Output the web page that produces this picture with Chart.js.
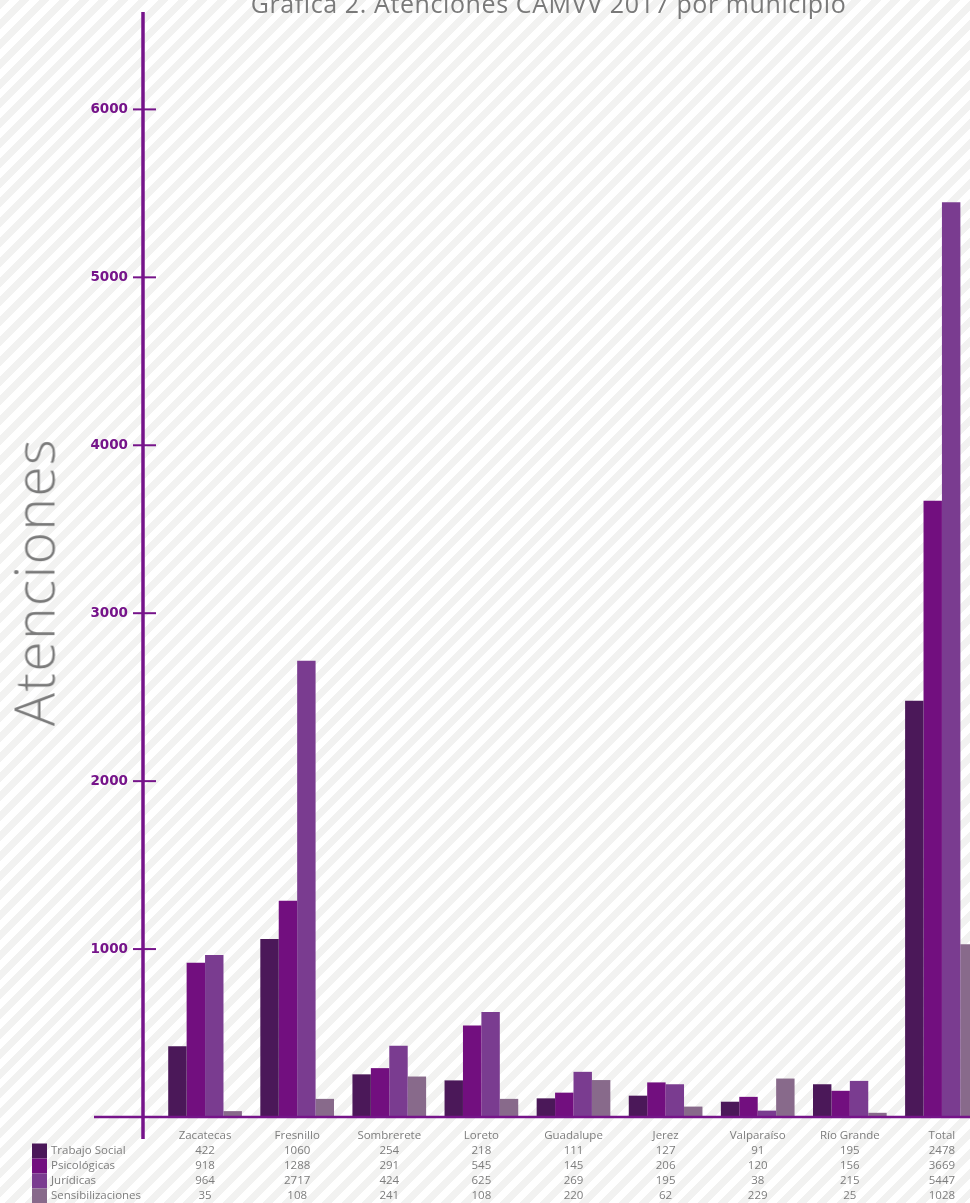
<!DOCTYPE html>
<html lang="es">
<head>
  <meta charset="UTF-8">
  <title>Gráfica 2. Atenciones CAMVV 2017 por municipio</title>
  <script src="https://cdn.jsdelivr.net/npm/chart.js"></script>
  <style>
    html, body {
      margin: 0;
      width: 970px;
      height: 1203px;
      overflow: hidden;
    }
    body {
      position: relative;
      font-family: 'Open Sans', sans-serif;
      background: repeating-linear-gradient(135deg, #f2f2f1 0px, #f2f2f1 7px, #ffffff 7px, #ffffff 14px);
    }
    #chart {
      position: absolute;
      left: 0;
      top: 0;
    }
    .titulo {
      position: absolute;
      left: 0;
      top: -9px;
      width: 1097px;
      text-align: center;
      font-size: 25px;
      line-height: 25px;
      letter-spacing: 0.6px;
      color: #7a7a7a;
      white-space: nowrap;
    }
    .eje-y {
      position: absolute;
      left: 33px;
      top: 582px;
      transform: translate(-50%, -50%) rotate(-90deg);
      font-size: 55px;
      font-weight: 300;
      letter-spacing: 1.5px;
      color: #7a7a7a;
      white-space: nowrap;
    }
  </style>
</head>
<body>

<canvas id="chart" width="1000" height="1203"></canvas>
<div class="titulo">Gráfica 2. Atenciones CAMVV 2017 por municipio</div>
<div class="eje-y">Atenciones</div>

<script>
// datos
const municipios = ['Zacatecas', 'Fresnillo', 'Sombrerete', 'Loreto', 'Guadalupe', 'Jerez', 'Valparaíso', 'Río Grande', 'Total'];
const trabajoSocial = [422, 1060, 254, 218, 111, 127, 91, 195, 2478];
const psicologicas = [918, 1288, 291, 545, 145, 206, 120, 156, 3669];
const juridicas = [964, 2717, 424, 625, 269, 195, 38, 215, 5447];
const sensibilizaciones = [35, 108, 241, 108, 220, 62, 229, 25, 1028];
const series = ['Trabajo Social', 'Psicológicas', 'Jurídicas', 'Sensibilizaciones'];
const colores = ['#4b1859', '#720f7f', '#7a3c90', '#886a8b'];
const yTicks = [1000, 2000, 3000, 4000, 5000, 6000];

const valores = [trabajoSocial, psicologicas, juridicas, sensibilizaciones];
const morado = '#76148a';

// ejes y tabla de leyenda dibujados sobre las escalas
const ejesPlugin = {
  id: 'ejes',
  afterDatasetsDraw(chart) {
    const ctx = chart.ctx;
    const area = chart.chartArea;
    const y = chart.scales.y;
    const x = chart.scales.x;
    const ejeX = area.left - 16;
    const base = y.getPixelForValue(0);
    ctx.save();
    ctx.strokeStyle = morado;
    // linea base
    ctx.lineWidth = 2.5;
    ctx.beginPath();
    ctx.moveTo(94, base);
    ctx.lineTo(chart.width, base);
    ctx.stroke();
    // eje vertical
    ctx.lineWidth = 3.5;
    ctx.beginPath();
    ctx.moveTo(ejeX, area.top);
    ctx.lineTo(ejeX, base + 22);
    ctx.stroke();
    // marcas
    ctx.lineWidth = 2;
    yTicks.forEach(v => {
      const py = y.getPixelForValue(v);
      ctx.beginPath();
      ctx.moveTo(ejeX - 10, py);
      ctx.lineTo(ejeX + 13, py);
      ctx.stroke();
    });
    // leyenda tipo tabla
    const lh = 15;
    const y0 = x.top + x.options.ticks.padding + lh;
    ctx.font = '11.5px "Open Sans"';
    ctx.textBaseline = 'middle';
    ctx.textAlign = 'left';
    series.forEach((s, i) => {
      const cy = y0 + lh * i + lh / 2;
      ctx.fillStyle = colores[i];
      ctx.fillRect(32, cy - lh / 2, 15, lh);
      ctx.fillStyle = '#7d7d7d';
      ctx.fillText(s, 51, cy);
    });
    ctx.restore();
  }
};

new Chart(document.getElementById('chart'), {
  type: 'bar',
  data: {
    labels: municipios,
    datasets: series.map((s, i) => ({
      label: s,
      data: valores[i],
      backgroundColor: colores[i],
      borderWidth: 0,
      barPercentage: 1.0,
      categoryPercentage: 0.8
    }))
  },
  options: {
    responsive: false,
    animation: false,
    layout: { padding: { top: 12, right: 12, left: 0, bottom: 0 } },
    plugins: {
      legend: { display: false },
      title: { display: false },
      tooltip: { enabled: false }
    },
    scales: {
      x: {
        grid: { display: false, drawTicks: false },
        border: { display: false },
        afterFit(scale) { scale.height = 86; },
        ticks: {
          padding: 11.5,
          color: '#7d7d7d',
          font: { family: 'Open Sans', size: 11.5, lineHeight: '15px' },
          maxRotation: 0,
          autoSkip: false,
          callback(value, index) {
            return [municipios[index]].concat(valores.map(v => String(v[index])));
          }
        }
      },
      y: {
        min: 0,
        max: 6580,
        grid: { display: false, drawTicks: false },
        border: { display: false },
        afterFit(scale) {
          scale.width = 159;
          scale.paddingTop = 0;
          scale.paddingBottom = 0;
        },
        afterBuildTicks(scale) { scale.ticks = yTicks.map(v => ({ value: v })); },
        ticks: {
          padding: 31,
          color: morado,
          font: { family: 'DejaVu Sans', size: 13.5, weight: 'bold' },
          callback(value) { return String(value); }
        }
      }
    }
  },
  plugins: [ejesPlugin]
});
</script>

</body>
</html>
